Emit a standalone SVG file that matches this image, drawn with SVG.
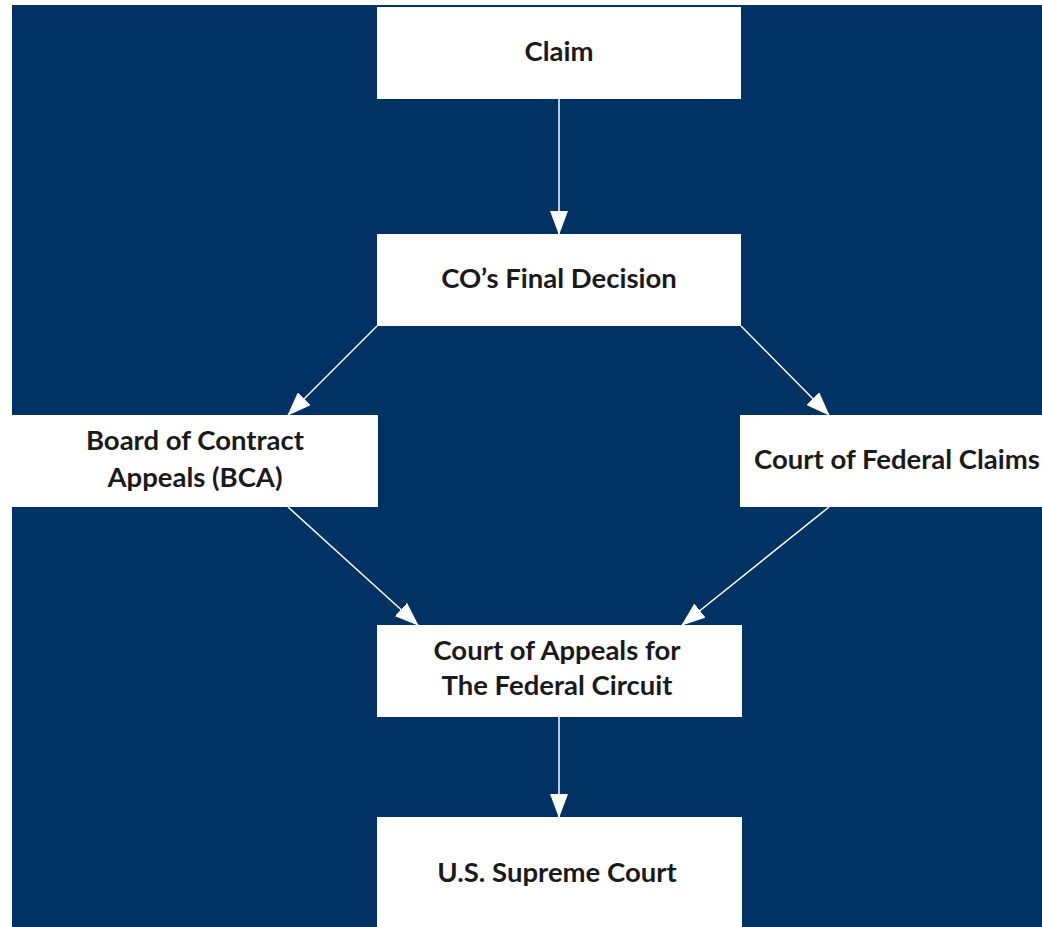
<svg xmlns="http://www.w3.org/2000/svg" width="1042" height="927" viewBox="0 0 1042 927">
<style>
.box{fill:#ffffff;}
.t{font-family:"Lato","Open Sans","Liberation Sans",sans-serif;font-weight:bold;font-size:27.5px;fill:#1a1a1a;text-anchor:middle;}
.c{stroke:#ffffff;stroke-width:1.5;fill:none;marker-end:url(#ah);}
</style>
<defs>
<marker id="ah" markerUnits="userSpaceOnUse" markerWidth="24" markerHeight="18" viewBox="0 0 24 18" refX="23" refY="9" orient="auto">
<path d="M0,0 L24,9 L0,18 Z" fill="#ffffff"/>
</marker>
</defs>
<rect x="0" y="0" width="1042" height="927" fill="#ffffff"/>
<rect x="12" y="5" width="1030" height="922" fill="#003364"/>
<g id="connectors">
<line class="c" x1="559" y1="99" x2="559" y2="234"/>
<line class="c" x1="377" y1="326" x2="288" y2="415"/>
<line class="c" x1="741" y1="326" x2="829" y2="415"/>
<line class="c" x1="288" y1="507" x2="418" y2="625"/>
<line class="c" x1="829" y1="507" x2="682" y2="625"/>
<line class="c" x1="559" y1="717" x2="559" y2="817"/>
</g>
<g id="claim">
<rect class="box" x="377" y="7" width="364" height="92"/>
<text class="t" x="559" y="61">Claim</text>
</g>
<g id="co-decision">
<rect class="box" x="377" y="234" width="364" height="92"/>
<text class="t" x="559" y="288">CO’s Final Decision</text>
</g>
<g id="bca">
<rect class="box" x="12" y="415" width="366" height="92"/>
<text class="t" x="195" y="450">Board of Contract</text>
<text class="t" x="195" y="487">Appeals (BCA)</text>
</g>
<g id="cfc">
<rect class="box" x="740" y="415" width="310" height="92"/>
<text class="t" x="897" y="469">Court of Federal Claims</text>
</g>
<g id="cafc">
<rect class="box" x="377" y="625" width="365" height="92"/>
<text class="t" x="557" y="660">Court of Appeals for</text>
<text class="t" x="557" y="695">The Federal Circuit</text>
</g>
<g id="supreme">
<rect class="box" x="377" y="817" width="365" height="115"/>
<text class="t" x="557" y="882">U.S. Supreme Court</text>
</g>
</svg>
